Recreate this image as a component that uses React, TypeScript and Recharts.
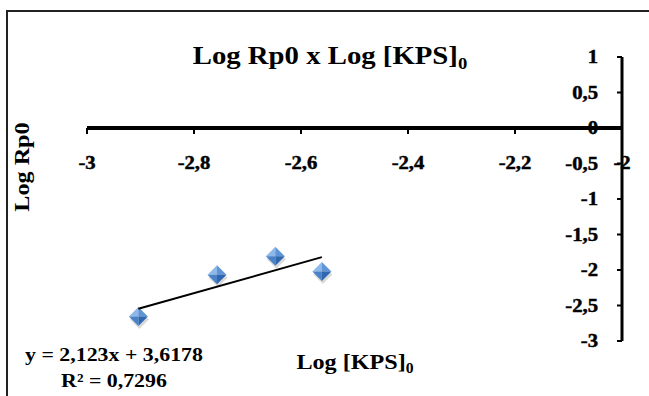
import React from "react"
import { ScatterChart, Scatter, XAxis, YAxis, ReferenceLine, ReferenceDot } from "recharts"

// values
const xValues = [-2.904, -2.757, -2.648, -2.561]
const yValues = [-2.654, -2.066, -1.808, -2.02]
const trendX = [-2.904, -2.561]
const trendY = [-2.547, -1.819]
const xTicks = [-3, -2.8, -2.6, -2.4, -2.2, -2]
const yTicks = [1, 0.5, 0, -0.5, -1, -1.5, -2, -2.5, -3]

const points = xValues.map((x, i) => ({ x, y: yValues[i] }))
const trend = trendX.map((x, i) => ({ x, y: trendY[i] }))

const FONT = "'Liberation Serif', 'Times New Roman', serif"
const STRETCH = 1.15
const fmt = (v: number) => String(v).replace(".", ",")

function Label({ x, y, anchor, children }: any) {
  return (
    <g transform={`translate(${x} ${y}) scale(${STRETCH} 1)`}>
      <text x={0} y={0} dy="0.36em" textAnchor={anchor} fill="#000" stroke="#000" strokeWidth={0.45}
        style={{ fontFamily: FONT, fontWeight: 700, fontSize: 18 }}>
        {children}
      </text>
    </g>
  )
}

function YTick(props: any) {
  const { x, y, payload } = props
  return <Label x={x} y={y} anchor="end">{fmt(payload.value)}</Label>
}

function XTick({ cx, cy, value }: any) {
  return (
    <g>
      <line x1={cx} x2={cx} y1={cy} y2={cy + 6} stroke="#000" strokeWidth={2} />
      <Label x={cx} y={cy + 35} anchor="middle">{fmt(value)}</Label>
    </g>
  )
}

function Diamond({ cx, cy }: any) {
  const r = 9.5
  const t = `${cx},${cy - r}`, rr = `${cx + r},${cy}`, b = `${cx},${cy + r}`, l = `${cx - r},${cy}`, c = `${cx},${cy}`
  return (
    <g>
      <polygon points={`${cx + 1},${cy - r + 3} ${cx + r + 1},${cy + 3} ${cx + 1},${cy + r + 3} ${cx - r + 1},${cy + 3}`} fill="#000" opacity={0.15} />
      <polygon points={`${t} ${c} ${l}`} fill="#8db8ea" />
      <polygon points={`${t} ${rr} ${c}`} fill="#5f95d6" />
      <polygon points={`${c} ${rr} ${b}`} fill="#2f68b0" />
      <polygon points={`${l} ${c} ${b}`} fill="#4a82c8" />
    </g>
  )
}

const txt: React.CSSProperties = {
  position: "absolute", fontFamily: FONT, fontWeight: 700, color: "#000", whiteSpace: "nowrap", lineHeight: 1,
}
const sub: React.CSSProperties = { fontSize: "0.65em", position: "relative", top: "0.3em" }

export default function App() {
  return (
    <div style={{ position: "absolute", left: 0, top: 0, width: 649, height: 396, overflow: "hidden", background: "#fff" }}>
      <div style={{ position: "absolute", left: 6, top: 10, width: 643, height: 386, borderTop: "2px solid #222", borderLeft: "2px solid #222", boxSizing: "border-box" }} />
      <ScatterChart width={649} height={396} margin={{ top: 57, right: 27, left: 87, bottom: 55 }}>
        <XAxis type="number" dataKey="x" domain={[-3, -2]} hide allowDataOverflow />
        <YAxis type="number" dataKey="y" domain={[-3, 1]} ticks={yTicks} interval={0} orientation="right" mirror
          axisLine={{ stroke: "#000", strokeWidth: 3 }} tickLine={{ stroke: "#000", strokeWidth: 2 }}
          tickSize={5} tickMargin={19} tick={<YTick />} />
        <ReferenceLine y={0} stroke="#000" strokeWidth={4} />
        {xTicks.map(t => (
          <ReferenceDot key={t} x={t} y={0} shape={(p: any) => <XTick cx={p.cx} cy={p.cy} value={t} />} />
        ))}
        <Scatter data={points} isAnimationActive={false} shape={(p: any) => <Diamond cx={p.cx} cy={p.cy} />} />
        <Scatter data={trend} isAnimationActive={false} line={{ stroke: "#000", strokeWidth: 2 }} shape={() => <g />} />
      </ScatterChart>

      <div style={{ ...txt, left: 330, top: 43, fontSize: 25, transform: `translateX(-50%) scaleX(${STRETCH})` }}>
        Log Rp0 x Log [KPS]<span style={sub}>0</span>
      </div>
      <div style={{ ...txt, left: 22, top: 167, fontSize: 21, transform: `translate(-50%, -50%) rotate(-90deg) scaleX(${STRETCH})` }}>
        Log Rp0
      </div>
      <div style={{ ...txt, left: 355, top: 352, fontSize: 21, transform: `translateX(-50%) scaleX(${STRETCH})` }}>
        Log [KPS]<span style={sub}>0</span>
      </div>
      <div style={{ ...txt, left: 114, top: 345, fontSize: 19, transform: `translateX(-50%) scaleX(${STRETCH})` }}>
        y = 2,123x + 3,6178
      </div>
      <div style={{ ...txt, left: 114, top: 371, fontSize: 19, transform: `translateX(-50%) scaleX(${STRETCH})` }}>
        R² = 0,7296
      </div>
    </div>
  )
}
